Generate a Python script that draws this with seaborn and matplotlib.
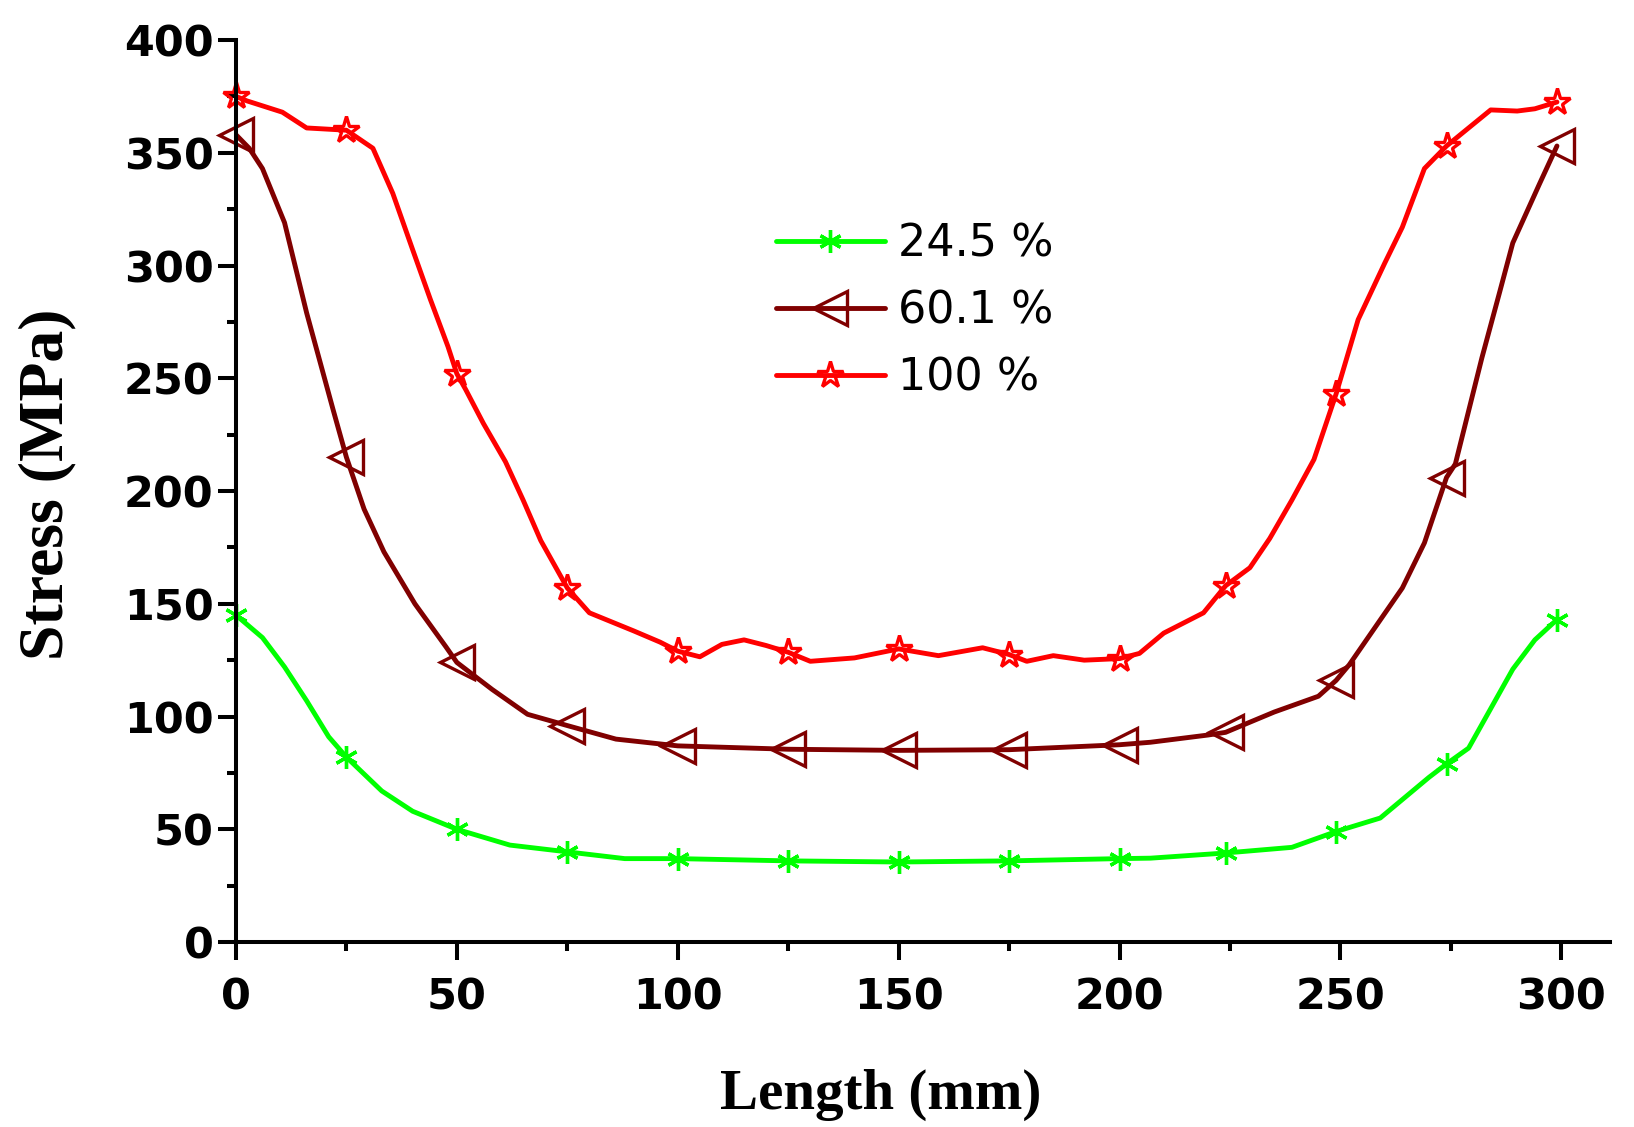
import matplotlib
matplotlib.use("Agg")
import matplotlib.pyplot as plt
from matplotlib.lines import Line2D
import seaborn as sns

# curve points (Length in mm, Stress in MPa)
green_x = [0, 6, 11, 16, 21, 25, 33, 40, 50, 62, 75, 88, 100, 125, 150, 175, 200,
           207, 224, 239, 249, 259, 270, 274, 279, 289, 294, 299]
green_y = [145, 135, 122, 107, 91, 82, 67, 58, 50, 43, 40, 37, 37, 36, 35.5, 36, 37,
           37.2, 39.5, 42, 49, 55, 73, 79, 86, 121, 134, 143]

brown_x = [0, 3, 6, 11, 16, 22, 25, 29, 33.5, 40.5, 47.5, 50, 58, 66, 75, 86, 100, 125,
           150, 175, 200, 207, 220, 224, 235, 245, 249, 252, 264, 269, 274, 276, 282,
           286, 289, 295, 299]
brown_y = [358, 352, 343, 319, 279, 236, 215, 192, 173, 150, 131, 124, 112, 101, 96, 90,
           87, 85.5, 85, 85.3, 87.5, 88.6, 91.8, 93, 102, 109, 116, 123, 157, 177,
           206, 212, 259, 288, 310, 336, 353]

red_x = [0, 2.5, 10.5, 16, 25, 31, 35.5, 40, 44, 48, 50, 52, 56, 61, 65, 69, 75, 80, 90,
         96, 100, 105, 110, 115, 120, 125, 130, 140, 150, 159, 169, 175, 179, 185,
         192, 200, 204.5, 210, 219, 224, 229.5, 234, 239, 244, 249, 254, 260, 264,
         269, 274, 284, 290, 294, 299]
red_y = [375, 373, 368, 361, 360, 352, 332, 307, 285, 264, 252, 245, 230, 213, 196,
         178, 157, 146, 138, 133, 129, 126.5, 132, 134, 131.5, 128.5, 124.5, 126, 130,
         127, 130.5, 127.5, 124.5, 127, 125, 125.7, 128, 137, 146, 158, 166, 179, 196,
         214, 243, 276, 301, 317, 343, 353, 369, 368.5, 369.5, 372.5]

# symbol positions
marker_x = [0, 25, 50, 75, 100, 125, 150, 175, 200, 224, 249, 274, 299]
green_my = [145, 82, 50, 40, 37, 36, 35.5, 36, 37, 39.5, 49, 79, 143]
brown_my = [358, 215, 124, 96, 87, 85.5, 85, 85.3, 87.5, 93, 116, 206, 353]
red_my = [375, 360, 252, 157, 129, 128.5, 130, 127.5, 125.7, 158, 243, 353, 372.5]

labels = ["24.5 %", "60.1 %", "100 %"]
colors = ["#00ff00", "#800000", "#ff0000"]
markers = [(6, 2, 0), "<", "*"]
marker_sizes = [16.5, 24, 20]

sns.set_style("ticks", {"axes.edgecolor": "black", "text.color": "black",
                        "axes.labelcolor": "black", "xtick.color": "black",
                        "ytick.color": "black"})
plt.rcParams['font.family'] = ['DejaVu Sans']

fig = plt.figure(figsize=(16.34, 11.27), dpi=100)
ax = fig.add_axes([0.1444, 0.1641, 0.8409, 0.8004])

series = [(green_x, green_y, green_my), (brown_x, brown_y, brown_my), (red_x, red_y, red_my)]
handles = []
for (xs, ys, my), c, m, ms in zip(series, colors, markers, marker_sizes):
    sns.lineplot(x=xs, y=ys, color=c, linewidth=3.5, sort=False, estimator=None, ax=ax)
    sns.lineplot(x=marker_x, y=my, color=c, linestyle='', marker=m, markersize=ms,
                 markerfacecolor='none', markeredgecolor=c, markeredgewidth=2.4,
                 sort=False, estimator=None, clip_on=False, ax=ax)
    handles.append(Line2D([], [], color=c, linewidth=3.5, marker=m, markersize=ms,
                          markerfacecolor='none', markeredgecolor=c, markeredgewidth=2.4))

ax.set_xlim(0, 311)
ax.set_ylim(0, 400)
ax.set_xticks(range(0, 301, 50))
ax.set_xticks(range(25, 301, 50), minor=True)
ax.set_yticks(range(0, 401, 50))
ax.set_yticks(range(25, 401, 50), minor=True)

sns.despine(ax=ax)
for side in ['left', 'bottom']:
    ax.spines[side].set_linewidth(2.9)
ax.tick_params(which='major', length=13, width=2.9, labelsize=31)
ax.tick_params(which='minor', length=6.5, width=2.9)
ax.tick_params(axis='x', which='major', pad=12)
ax.tick_params(axis='y', which='major', pad=3)
plt.setp(ax.get_xticklabels() + ax.get_yticklabels(), fontweight='bold')

ax.set_xlabel("Length (mm)", fontsize=41, fontweight='bold', family='Liberation Serif')
ax.set_ylabel("Stress (MPa)", fontsize=46, fontweight='bold', family='Liberation Serif')
ax.xaxis.set_label_coords(0.469, -0.14)
ax.yaxis.set_label_coords(-0.1164, 0.507)

ax.legend(handles, labels, loc='center left', bbox_to_anchor=(776 / 1634, 1 - 311 / 1127),
          bbox_transform=fig.transFigure, frameon=False, fontsize=32, handlelength=2.45,
          handletextpad=0.3, labelspacing=0.55, borderpad=0, borderaxespad=0)

fig.savefig("out.png", dpi=100)
